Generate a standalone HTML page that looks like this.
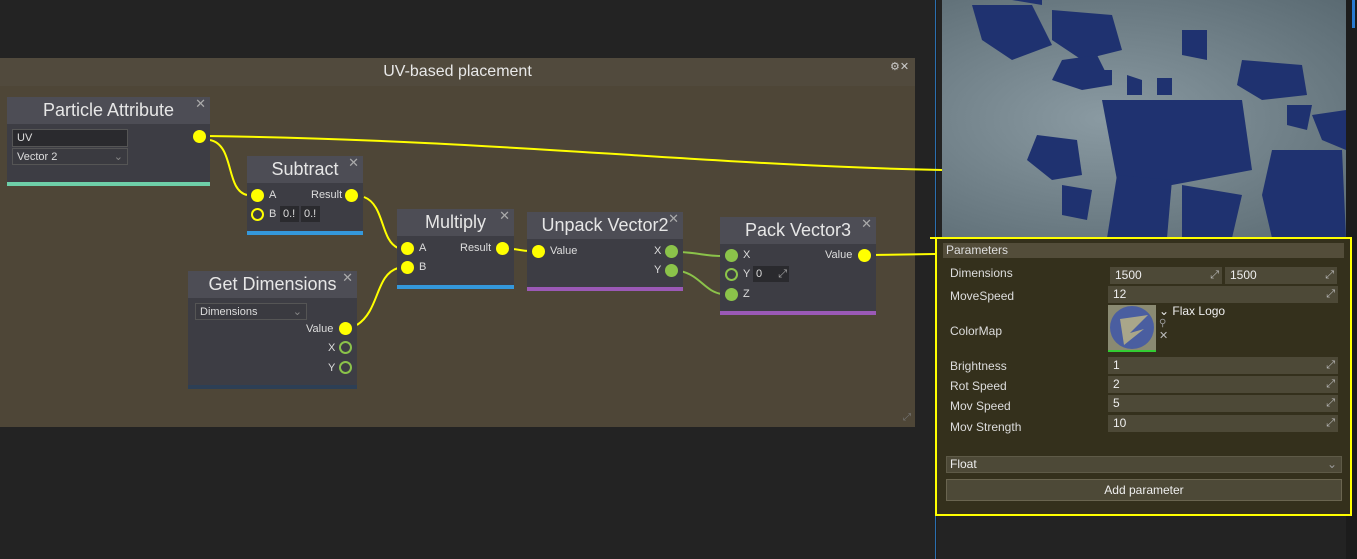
<!DOCTYPE html>
<html><head><style>
*{box-sizing:border-box;margin:0;padding:0}
body{width:1357px;height:559px;background:#232323;position:relative;overflow:hidden;font-family:"Liberation Sans",sans-serif;color:#ddd}
.a{position:absolute}
.node{position:absolute;background:#3d3d44}
.hd{position:absolute;left:0;right:0;top:0;height:27px;background:#4d4d55;color:#e6e6e6;font-size:18px;text-align:center;line-height:27px}
.x{position:absolute;right:4px;top:0;font-size:13px;color:#aaa;line-height:14px}
.bar{position:absolute;left:0;right:0;bottom:0;height:4px}
.pin{position:absolute;width:13px;height:13px;border-radius:50%;background:#ffff00}
.pin.o{background:none;border:2.5px solid #ffff00}
.pin.g{background:#8bc34a}
.pin.go{background:none;border:2.5px solid #8bc34a}
.t{position:absolute;font-size:11px;color:#ddd}
.box{position:absolute;background:#2c2c30;border:1px solid #555;font-size:11px;color:#ddd;padding-left:4px;line-height:16px}
.pl{position:absolute;left:14px;font-size:12px;color:#ddd}
.pf{position:absolute;left:1108px;width:230px;height:17px;background:#4d4937;font-size:12px;color:#eee;padding-left:5px;line-height:17px}
.pf:after{content:"⤢";position:absolute;right:3px;top:0;font-size:11px;color:#bbb}
</style></head><body>
<div class="a" style="left:0;top:58px;width:915px;height:369px;background:#4e4637"></div>
<div class="a" style="left:0;top:58px;width:915px;height:28px;background:#514a3d;text-align:center;font-size:16px;line-height:28px;color:#e8e8e8">UV-based placement</div>
<div class="a" style="left:890px;top:60px;font-size:11px;color:#ccc">⚙✕</div>
<div class="a" style="left:903px;top:412px;font-size:10px;color:#777">⤢</div>
<!-- right area -->
<div class="a" style="left:935px;top:0;width:2px;height:559px;background:#1e1e1e"></div>
<div class="a" style="left:935px;top:0;width:1px;height:559px;background:#2a6fb0"></div>
<div class="a" style="left:942px;top:0;width:404px;height:238px;background:radial-gradient(ellipse at 40% 50%,#8a9aa2,#5a6a72)"></div>
<svg class="a" style="left:942px;top:0" width="404" height="238" fill="#1f3270">
<polygon points="30,5 90,5 110,45 70,60 40,40"/><polygon points="110,10 170,15 180,50 140,60 110,40"/><polygon points="120,60 155,55 170,85 140,90 110,80"/><polygon points="240,30 265,30 265,60 240,55"/><polygon points="300,60 360,65 365,95 320,100 295,85"/><polygon points="160,100 300,100 310,170 230,185 175,180"/><polygon points="95,135 135,140 140,175 110,180 85,160"/><polygon points="330,150 400,150 404,238 330,238 320,195"/><polygon points="175,175 230,180 225,238 165,238"/><polygon points="240,185 300,195 290,238 240,238"/><polygon points="120,185 150,190 145,220 120,215"/><polygon points="345,105 370,105 365,130 345,125"/><polygon points="370,115 404,110 404,150 380,140"/><polygon points="150,70 170,70 170,85 150,85"/><polygon points="185,75 200,80 200,95 185,95"/><polygon points="215,78 230,78 230,95 215,95"/><polygon points="70,0 100,0 100,5"/>
</svg>
<div class="a" style="left:1346px;top:0;width:11px;height:559px;background:#1c1c1c"></div>
<div class="a" style="left:1352px;top:0;width:3px;height:28px;background:#2a7bd0"></div>
<!-- parameters panel -->
<div class="a" style="left:935px;top:237px;width:417px;height:279px;border:2px solid #ffff00;background:#34301c"></div>
<div class="a" style="left:943px;top:243px;width:401px;height:15px;background:#534d3a;font-size:12px;line-height:15px;padding-left:3px;color:#ddd">Parameters</div>
<div class="pl" style="left:950px;top:266px">Dimensions</div>
<div class="pf" style="left:1110px;top:267px;width:112px">1500</div>
<div class="pf" style="left:1225px;top:267px;width:112px">1500</div>
<div class="pl" style="left:950px;top:289px">MoveSpeed</div>
<div class="pf" style="top:286px">12</div>
<div class="pl" style="left:950px;top:324px">ColorMap</div>
<div class="a" style="left:1108px;top:305px;width:48px;height:47px;background:#8a8a72;border-bottom:2px solid #3c3"><div style="position:absolute;left:2px;top:1px;width:44px;height:43px;border-radius:50%;background:#4a5ea0"></div><svg style="position:absolute;left:0;top:0" width="48" height="47"><polygon points="12,14 40,10 22,28 36,24 16,40" fill="#a9a68a"/></svg></div>
<div class="a" style="left:1159px;top:304px;font-size:12px;color:#eee">⌄ Flax Logo</div>
<div class="a" style="left:1159px;top:318px;font-size:10px;color:#999">⚲</div>
<div class="a" style="left:1159px;top:329px;font-size:11px;color:#bbb">✕</div>
<div class="pl" style="left:950px;top:359px">Brightness</div>
<div class="pf" style="top:357px">1</div>
<div class="pl" style="left:950px;top:379px">Rot Speed</div>
<div class="pf" style="top:376px">2</div>
<div class="pl" style="left:950px;top:399px">Mov Speed</div>
<div class="pf" style="top:395px">5</div>
<div class="pl" style="left:950px;top:420px">Mov Strength</div>
<div class="pf" style="top:415px">10</div>
<div class="a" style="left:946px;top:456px;width:396px;height:17px;background:#4d4937;border:1px solid #5e5a47;font-size:12px;line-height:15px;padding-left:3px;color:#eee">Float<span style="position:absolute;right:4px;color:#999">⌄</span></div>
<div class="a" style="left:946px;top:479px;width:396px;height:22px;background:#4d4937;border:1px solid #6a6550;font-size:12px;line-height:20px;text-align:center;color:#eee">Add parameter</div>

<!-- wires -->
<svg class="a" style="left:0;top:0" width="1357" height="559" fill="none" stroke-width="2">
<path d="M206,136 C500,140 700,165 942,170" stroke="#ffff00"/>
<path d="M210,140 C235,145 225,190 247,195" stroke="#ffff00"/>
<path d="M364,197 C385,205 380,240 398,248" stroke="#ffff00"/>
<path d="M357,325 C380,310 375,275 398,268" stroke="#ffff00"/>
<path d="M511,249 C520,249 520,251 530,251" stroke="#ffff00"/>
<path d="M680,252 C700,253 705,256 722,256" stroke="#8bc34a"/>
<path d="M680,271 C700,275 705,292 722,294" stroke="#8bc34a"/>
<path d="M870,255 L935,254" stroke="#ffff00"/>
<path d="M930,238 L942,238" stroke="#ffff00"/>
</svg>

<!-- Particle Attribute -->
<div class="node" style="left:7px;top:97px;width:203px;height:89px">
<div class="hd">Particle Attribute</div><div class="x">✕</div>
<div class="box" style="left:5px;top:32px;width:116px;height:18px;background:#2a2a2e">UV</div>
<div class="box" style="left:5px;top:51px;width:116px;height:17px;background:#3a3a40">Vector 2<span style="position:absolute;right:4px;color:#888">⌄</span></div>
<div class="pin" style="left:186px;top:33px"></div>
<div class="bar" style="background:#6ecfa8"></div></div>
<!-- Subtract -->
<div class="node" style="left:247px;top:156px;width:116px;height:79px">
<div class="hd">Subtract</div><div class="x">✕</div>
<div class="pin" style="left:4px;top:33px"></div><div class="t" style="left:22px;top:33px">A</div>
<div class="t" style="left:64px;top:33px">Result</div><div class="pin" style="left:98px;top:33px"></div>
<div class="pin o" style="left:4px;top:52px"></div><div class="t" style="left:22px;top:52px">B</div>
<div class="a" style="left:33px;top:50px;width:19px;height:16px;background:#2a2a2e;font-size:11px;line-height:16px;padding-left:3px">0.!</div>
<div class="a" style="left:54px;top:50px;width:19px;height:16px;background:#2a2a2e;font-size:11px;line-height:16px;padding-left:3px">0.!</div>
<div class="bar" style="background:#3498db"></div></div>
<!-- Get Dimensions -->
<div class="node" style="left:188px;top:271px;width:169px;height:118px">
<div class="hd">Get Dimensions</div><div class="x">✕</div>
<div class="box" style="left:7px;top:32px;width:112px;height:17px;background:#3a3a40">Dimensions<span style="position:absolute;right:4px;color:#888">⌄</span></div>
<div class="t" style="left:118px;top:52px">Value</div><div class="pin" style="left:151px;top:51px"></div>
<div class="t" style="left:140px;top:71px">X</div><div class="pin go" style="left:151px;top:70px"></div>
<div class="t" style="left:140px;top:91px">Y</div><div class="pin go" style="left:151px;top:90px"></div>
<div class="bar" style="background:#2d3f55"></div></div>
<!-- Multiply -->
<div class="node" style="left:397px;top:209px;width:117px;height:80px">
<div class="hd">Multiply</div><div class="x">✕</div>
<div class="pin" style="left:4px;top:33px"></div><div class="t" style="left:22px;top:33px">A</div>
<div class="t" style="left:63px;top:33px">Result</div><div class="pin" style="left:99px;top:33px"></div>
<div class="pin" style="left:4px;top:52px"></div><div class="t" style="left:22px;top:52px">B</div>
<div class="bar" style="background:#3498db"></div></div>
<!-- Unpack Vector2 -->
<div class="node" style="left:527px;top:212px;width:156px;height:79px">
<div class="hd">Unpack Vector2</div><div class="x">✕</div>
<div class="pin" style="left:5px;top:33px"></div><div class="t" style="left:23px;top:33px">Value</div>
<div class="t" style="left:127px;top:33px">X</div><div class="pin g" style="left:138px;top:33px"></div>
<div class="t" style="left:127px;top:52px">Y</div><div class="pin g" style="left:138px;top:52px"></div>
<div class="bar" style="background:#9b59b6"></div></div>
<!-- Pack Vector3 -->
<div class="node" style="left:720px;top:217px;width:156px;height:98px">
<div class="hd">Pack Vector3</div><div class="x">✕</div>
<div class="pin g" style="left:5px;top:32px"></div><div class="t" style="left:23px;top:32px">X</div>
<div class="t" style="left:105px;top:32px">Value</div><div class="pin" style="left:138px;top:32px"></div>
<div class="pin go" style="left:5px;top:51px"></div><div class="t" style="left:23px;top:51px">Y</div>
<div class="a" style="left:33px;top:49px;width:36px;height:16px;background:#2a2a2e;font-size:11px;line-height:16px;padding-left:3px">0<span style="position:absolute;right:2px;color:#aaa">⤢</span></div>
<div class="pin g" style="left:5px;top:71px"></div><div class="t" style="left:23px;top:71px">Z</div>
<div class="bar" style="background:#9b59b6"></div></div>
</body></html>
